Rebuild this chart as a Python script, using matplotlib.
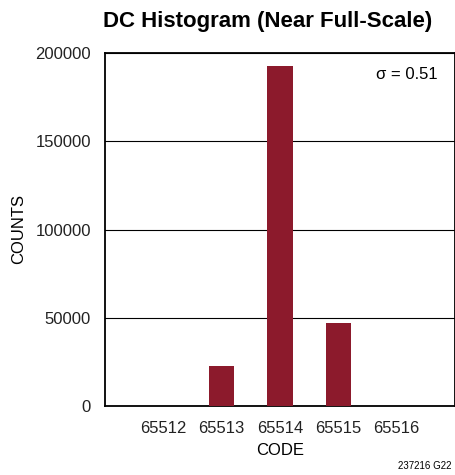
import matplotlib
matplotlib.use("Agg")
import matplotlib.pyplot as plt

codes = [65512, 65513, 65514, 65515, 65516]
counts = [0, 22800, 192500, 47200, 0]
yticks = [0, 50000, 100000, 150000, 200000]

plt.rcParams['font.family'] = ['Liberation Sans', 'DejaVu Sans']

fig = plt.figure(figsize=(4.56, 4.75), dpi=100)
ax = fig.add_axes([105/456, 1-406/475, 350/456, 353/475])

ax.bar(codes, counts, width=0.43, color='#8c1a2c', zorder=3)
ax.set_xlim(65511, 65517)
ax.set_ylim(0, 200000)
ax.set_xticks(codes)
ax.set_xticklabels([str(c) for c in codes])
ax.set_yticks(yticks)
ax.set_yticklabels([str(v) for v in yticks])
ax.yaxis.grid(True, color='black', linewidth=0.8, zorder=0)
ax.tick_params(axis='both', labelsize=12, length=0, colors='#222222')
ax.tick_params(axis='x', pad=11)
ax.tick_params(axis='y', pad=10)
for s in ax.spines.values():
    s.set_linewidth(1.3)

ax.set_xlabel('CODE', fontsize=12, labelpad=5)
ax.set_ylabel('COUNTS', fontsize=12, labelpad=7)
ax.text(0.95, 0.94, '\u03c3 = 0.51', transform=ax.transAxes, ha='right', va='center',
        fontsize=12)

fig.text(268/456, 1-22/475, 'DC Histogram (Near Full-Scale)', ha='center', va='center',
         fontsize=16, fontweight='bold')
fig.text(452/456, 1-466/475, '237216 G22', ha='right', va='center', fontsize=7)

fig.savefig('out.png', dpi=100)
